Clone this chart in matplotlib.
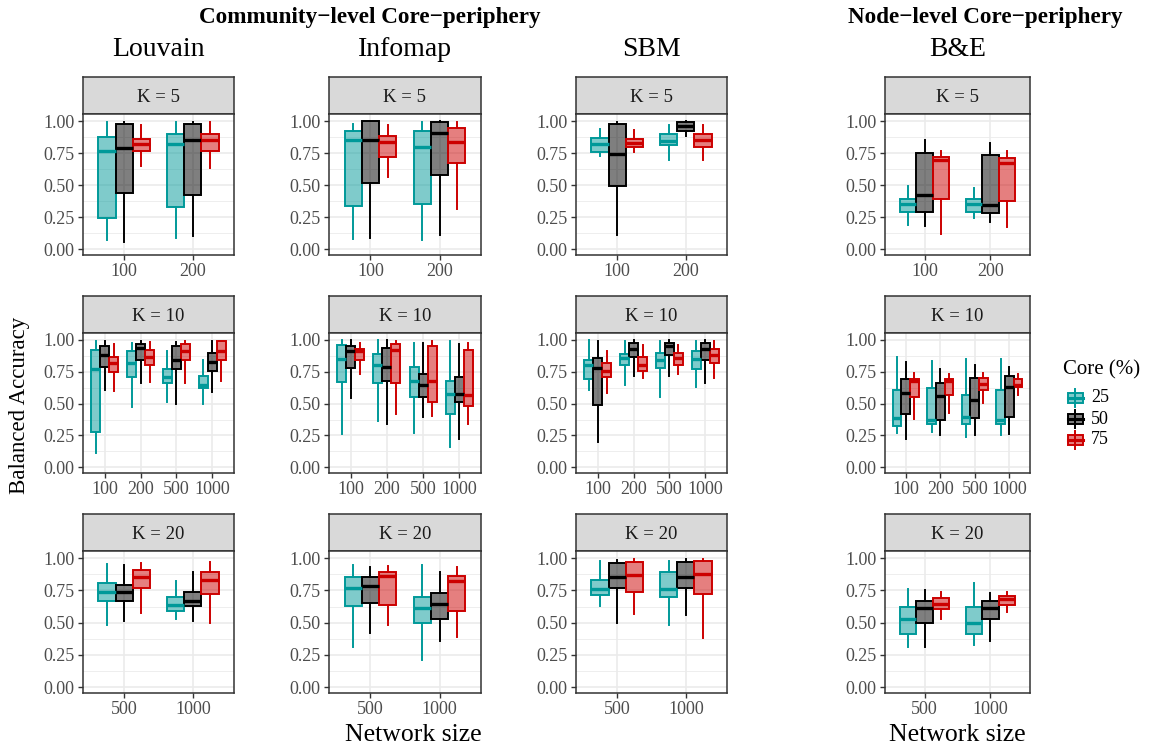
import matplotlib
matplotlib.use("Agg")
import matplotlib.pyplot as plt
from matplotlib.colors import to_rgba
from matplotlib.patches import Rectangle
from matplotlib.ticker import MultipleLocator

plt.rcParams['font.family'] = ['Liberation Serif', 'DejaVu Serif']

# box stats per size: [whisker low, q1, median, q3, whisker high]
sizes_k5 = ["100", "200"]
sizes_k10 = ["100", "200", "500", "1000"]
sizes_k20 = ["500", "1000"]
cores = [25, 50, 75]

louvain_k5 = {
    25: [[0.07, 0.24, 0.77, 0.875, 0.99], [0.09, 0.33, 0.82, 0.90, 0.995]],
    50: [[0.055, 0.44, 0.79, 0.98, 0.99], [0.10, 0.42, 0.85, 0.98, 0.99]],
    75: [[0.65, 0.77, 0.82, 0.86, 0.97], [0.63, 0.77, 0.85, 0.90, 0.99]],
}
infomap_k5 = {
    25: [[0.08, 0.335, 0.85, 0.925, 0.98], [0.07, 0.35, 0.80, 0.92, 0.99]],
    50: [[0.09, 0.52, 0.85, 1.0, 1.0], [0.11, 0.58, 0.91, 0.995, 1.0]],
    75: [[0.56, 0.72, 0.84, 0.88, 0.97], [0.31, 0.67, 0.84, 0.945, 0.99]],
}
sbm_k5 = {
    25: [[0.73, 0.76, 0.82, 0.87, 0.94], [0.70, 0.81, 0.845, 0.90, 0.97]],
    50: [[0.11, 0.49, 0.74, 0.98, 0.99], [0.88, 0.92, 0.96, 0.995, 1.0]],
    75: [[0.76, 0.80, 0.83, 0.86, 0.93], [0.70, 0.80, 0.85, 0.90, 0.97]],
}
be_k5 = {
    25: [[0.19, 0.29, 0.35, 0.395, 0.49], [0.24, 0.29, 0.35, 0.39, 0.48]],
    50: [[0.18, 0.29, 0.42, 0.75, 0.85], [0.215, 0.28, 0.345, 0.735, 0.83]],
    75: [[0.12, 0.395, 0.70, 0.72, 0.77], [0.17, 0.38, 0.67, 0.71, 0.77]],
}

louvain_k10 = {
    25: [[0.11, 0.28, 0.77, 0.92, 0.99], [0.47, 0.71, 0.82, 0.91, 0.98],
         [0.51, 0.66, 0.71, 0.77, 0.91], [0.50, 0.62, 0.65, 0.72, 0.84]],
    50: [[0.61, 0.79, 0.88, 0.95, 0.99], [0.66, 0.84, 0.94, 0.97, 0.99],
         [0.50, 0.77, 0.84, 0.95, 0.985], [0.59, 0.76, 0.83, 0.90, 0.99]],
    75: [[0.60, 0.75, 0.82, 0.87, 0.97], [0.67, 0.80, 0.87, 0.92, 0.985],
         [0.66, 0.84, 0.91, 0.97, 0.99], [0.68, 0.84, 0.915, 0.99, 0.99]],
}
infomap_k10 = {
    25: [[0.265, 0.67, 0.85, 0.96, 1.0], [0.36, 0.66, 0.80, 0.89, 1.0],
         [0.27, 0.55, 0.68, 0.79, 0.98], [0.16, 0.42, 0.575, 0.675, 0.99]],
    50: [[0.545, 0.78, 0.91, 0.955, 1.0], [0.34, 0.68, 0.79, 0.94, 1.0],
         [0.395, 0.55, 0.65, 0.735, 0.98], [0.22, 0.51, 0.575, 0.71, 0.965]],
    75: [[0.73, 0.84, 0.91, 0.93, 0.98], [0.42, 0.66, 0.92, 0.965, 0.99],
         [0.40, 0.51, 0.68, 0.95, 0.99], [0.34, 0.485, 0.565, 0.92, 0.98]],
}
sbm_k10 = {
    25: [[0.605, 0.69, 0.80, 0.845, 1.0], [0.65, 0.80, 0.86, 0.89, 0.99],
         [0.55, 0.78, 0.84, 0.90, 0.99], [0.63, 0.77, 0.85, 0.91, 0.99]],
    50: [[0.20, 0.49, 0.78, 0.86, 0.99], [0.72, 0.87, 0.93, 0.98, 1.0],
         [0.72, 0.88, 0.95, 0.98, 1.0], [0.66, 0.84, 0.93, 0.98, 1.0]],
    75: [[0.58, 0.71, 0.76, 0.82, 0.91], [0.70, 0.76, 0.80, 0.87, 0.96],
         [0.73, 0.80, 0.86, 0.90, 0.96], [0.70, 0.82, 0.88, 0.93, 0.99]],
}
be_k10 = {
    25: [[0.27, 0.325, 0.39, 0.61, 0.87], [0.28, 0.34, 0.37, 0.62, 0.835],
         [0.235, 0.34, 0.395, 0.57, 0.85], [0.25, 0.34, 0.37, 0.61, 0.85]],
    50: [[0.22, 0.415, 0.585, 0.69, 0.83], [0.25, 0.37, 0.56, 0.66, 0.77],
         [0.25, 0.385, 0.53, 0.70, 0.80], [0.265, 0.395, 0.63, 0.715, 0.79]],
    75: [[0.38, 0.55, 0.68, 0.69, 0.74], [0.43, 0.57, 0.675, 0.69, 0.73],
         [0.505, 0.605, 0.655, 0.70, 0.74], [0.57, 0.63, 0.65, 0.695, 0.735]],
}

louvain_k20 = {
    25: [[0.48, 0.665, 0.74, 0.805, 0.955], [0.53, 0.59, 0.635, 0.695, 0.82]],
    50: [[0.515, 0.67, 0.735, 0.79, 0.95], [0.515, 0.63, 0.67, 0.74, 0.89]],
    75: [[0.575, 0.765, 0.855, 0.91, 0.96], [0.50, 0.72, 0.83, 0.89, 0.97]],
}
infomap_k20 = {
    25: [[0.31, 0.63, 0.77, 0.855, 0.95], [0.21, 0.50, 0.61, 0.70, 0.95]],
    50: [[0.42, 0.65, 0.785, 0.85, 0.93], [0.36, 0.53, 0.645, 0.73, 0.89]],
    75: [[0.48, 0.635, 0.86, 0.89, 0.94], [0.39, 0.59, 0.82, 0.86, 0.93]],
}
sbm_k20 = {
    25: [[0.63, 0.715, 0.76, 0.83, 0.975], [0.48, 0.70, 0.76, 0.89, 0.98]],
    50: [[0.50, 0.765, 0.85, 0.96, 0.985], [0.56, 0.77, 0.85, 0.97, 0.99]],
    75: [[0.57, 0.74, 0.87, 0.97, 0.99], [0.38, 0.72, 0.88, 0.98, 0.99]],
}
be_k20 = {
    25: [[0.31, 0.41, 0.53, 0.62, 0.76], [0.33, 0.41, 0.495, 0.625, 0.81]],
    50: [[0.31, 0.50, 0.61, 0.67, 0.75], [0.355, 0.53, 0.61, 0.665, 0.73]],
    75: [[0.53, 0.605, 0.645, 0.69, 0.74], [0.58, 0.64, 0.68, 0.705, 0.74]],
}

methods = ["Louvain", "Infomap", "SBM", "B&E"]
ks = [5, 10, 20]
sizes = [sizes_k5, sizes_k10, sizes_k20]
panels = [
    [louvain_k5, louvain_k10, louvain_k20],
    [infomap_k5, infomap_k10, infomap_k20],
    [sbm_k5, sbm_k10, sbm_k20],
    [be_k5, be_k10, be_k20],
]
colors = {25: "#009999", 50: "#000000", 75: "#CC0000"}

W, H = 1158, 746
fig = plt.figure(figsize=(W / 100, H / 100), dpi=100)

def px_axes(x0, x1, ytop, ybot):
    return fig.add_axes([x0 / W, 1 - ybot / H, (x1 - x0) / W, (ybot - ytop) / H])

cols = [(83, 234), (329, 481), (576, 727), (885, 1030)]
rows = [(77, 114, 255), (296, 333, 473), (514, 551, 693)]
edge_col = "#333333"

for ci, (x0, x1) in enumerate(cols):
    for ri, (st, sb, pb) in enumerate(rows):
        # strip
        sax = px_axes(x0, x1, st, sb)
        sax.set_facecolor("#d9d9d9")
        sax.set_xticks([])
        sax.set_yticks([])
        for sp in sax.spines.values():
            sp.set_color(edge_col)
            sp.set_linewidth(1.1)
        sax.text(0.5, 0.45, f"K = {ks[ri]}", ha="center", va="center",
                 fontsize=13.5, color="#1a1a1a", transform=sax.transAxes)

        ax = px_axes(x0, x1, sb, pb)
        data = panels[ci][ri]
        n = len(sizes[ri])
        for j, c in enumerate(cores):
            off = (j - 1) * 0.25
            stats = []
            for s in data[c]:
                stats.append(dict(whislo=s[0], q1=s[1], med=s[2], q3=s[3],
                                  whishi=s[4], fliers=[]))
            ax.bxp(stats, positions=[i + 1 + off for i in range(n)], widths=0.25,
                   patch_artist=True, showcaps=False, showfliers=False,
                   boxprops=dict(facecolor=to_rgba(colors[c], 0.5),
                                 edgecolor=colors[c], linewidth=1.4),
                   medianprops=dict(color=colors[c], linewidth=2.4),
                   whiskerprops=dict(color=colors[c], linewidth=1.4),
                   manage_ticks=False)
        ax.set_xlim(0.4, n + 0.6)
        ax.set_ylim(-0.045, 1.055)
        ax.set_xticks(range(1, n + 1))
        ax.set_xticklabels(sizes[ri])
        ax.set_yticks([0, 0.25, 0.5, 0.75, 1.0])
        ax.set_yticklabels(["0.00", "0.25", "0.50", "0.75", "1.00"])
        ax.yaxis.set_minor_locator(MultipleLocator(0.125))
        ax.set_axisbelow(True)
        ax.grid(which="major", color="#ebebeb", linewidth=1.2)
        ax.grid(which="minor", axis="y", color="#ebebeb", linewidth=0.6)
        ax.tick_params(which="major", direction="out", length=3.5, width=1.0,
                       color=edge_col, labelsize=13, labelcolor="#4d4d4d", pad=2.5)
        ax.tick_params(which="minor", length=0)
        for sp in ax.spines.values():
            sp.set_color(edge_col)
            sp.set_linewidth(1.1)

    fig.text(((x0 + x1) / 2) / W, 1 - 50 / H, methods[ci], ha="center",
             va="center", fontsize=20, color="black")

fig.text(370 / W, 1 - 18 / H, "Community\u2212level Core\u2212periphery", ha="center",
         va="center", fontsize=16.7, fontweight="bold")
fig.text(985 / W, 1 - 18 / H, "Node\u2212level Core\u2212periphery", ha="center",
         va="center", fontsize=16.7, fontweight="bold")
fig.text(20 / W, 1 - 405 / H, "Balanced Accuracy", rotation=90, ha="center",
         va="center", fontsize=16.5)
fig.text(413 / W, 1 - 735 / H, "Network size", ha="center", va="center", fontsize=18.5)
fig.text(957 / W, 1 - 735 / H, "Network size", ha="center", va="center", fontsize=18.5)

# legend
lax = px_axes(1050, 1155, 355, 460)
lax.set_xlim(1050, 1155)
lax.set_ylim(460, 355)
lax.axis("off")
lax.text(1063, 370, "Core (%)", ha="left", va="center", fontsize=15)
for c, yc in zip(cores, [398, 419, 440]):
    col = colors[c]
    lax.plot([1075.5, 1075.5], [yc - 9, yc + 9], color=col, lw=1.4)
    lax.add_patch(Rectangle((1068, yc - 5), 15, 10, facecolor=to_rgba(col, 0.5),
                            edgecolor=col, lw=1.4, zorder=3))
    lax.plot([1068, 1083], [yc, yc], color=col, lw=2.2, zorder=4)
    lax.text(1091, yc, str(c), ha="left", va="center", fontsize=13)

fig.savefig("out.png", dpi=100)
